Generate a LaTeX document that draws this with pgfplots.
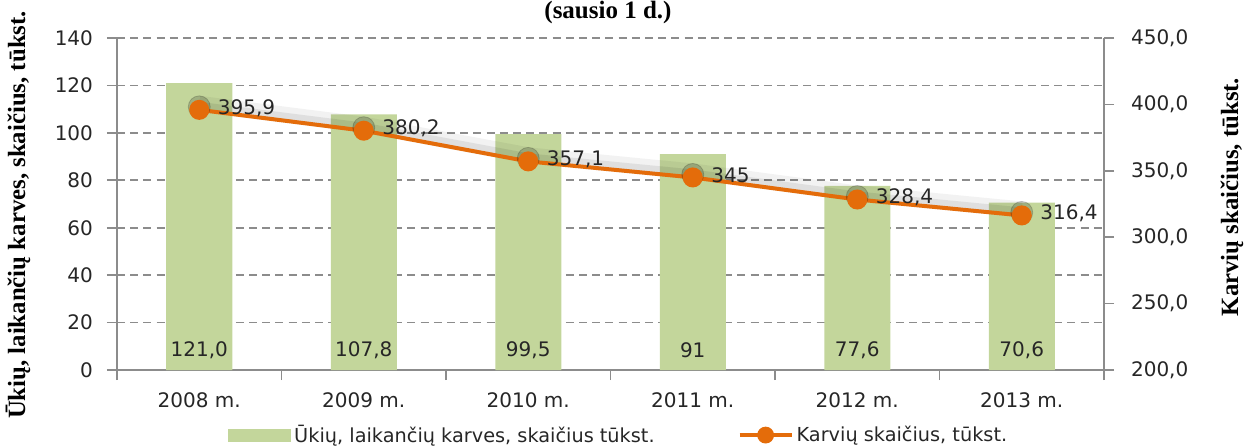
\documentclass[border=0pt]{standalone}
\usepackage{fontspec}
\setmainfont{DejaVu Sans}
\newfontfamily\serifb{Liberation Serif}[BoldFont={Liberation Serif Bold}]
\usepackage{pgfplots}
\pgfplotsset{compat=1.18}

\definecolor{barg}{HTML}{C3D69B}
\definecolor{lineo}{HTML}{E46C0A}
\definecolor{axg}{HTML}{8C8C8C}

\pgfplotsset{
  base/.style={
    scale only axis, width=493.5pt, height=166pt,
    at={(0,0)}, anchor=south west,
    xmin=-0.5, xmax=5.5, clip=false,
    tick align=outside,
    /pgf/number format/assume math mode=true,
    tick label style={font=\fontsize{10}{12}\selectfont, text=black!85},
    axis line style={axg, line width=0.8pt},
    every tick/.style={axg, line width=0.8pt},
    major tick length=5pt, minor tick length=5pt,
  },
}

\begin{document}
\begin{tikzpicture}
% ---- left axis: bars (farms keeping cows) ----
\begin{axis}[base,
  ymin=0, ymax=140, ytick={0,20,...,140},
  axis x line*=bottom, axis y line*=left,
  xtick={0,...,5},
  xticklabels={2008 m.,2009 m.,2010 m.,2011 m.,2012 m.,2013 m.},
  major x tick style={draw=none},
  minor xtick={-0.5,0.5,...,5.5},
  ymajorgrids,
  grid style={axg, line width=0.8pt, dash pattern=on 4pt off 2.6pt},
  xticklabel style={yshift=-3pt},
  yticklabel style={xshift=-3.5pt},
]
  \addplot[ybar, bar width=33pt, fill=barg, draw=none] coordinates {
    (0,121.0) (1,107.8) (2,99.5) (3,91.0) (4,77.6) (5,70.6)};
  % value labels inside the bars
  \addplot[draw=none, mark=none, nodes near coords, point meta=explicit symbolic,
    every node near coord/.style={anchor=center, font=\fontsize{10}{12}\selectfont, text=black!85}]
    coordinates {(0,8.5)[121,0] (1,8.5)[107,8] (2,8.5)[99,5] (3,8.5)[91] (4,8.5)[77,6] (5,8.5)[70,6]};
\end{axis}

% ---- right axis: cows ----
\begin{axis}[base,
  ymin=200, ymax=450, ytick={200,250,...,450},
  yticklabels={{200,0},{250,0},{300,0},{350,0},{400,0},{450,0}},
  yticklabel style={xshift=5pt},
  axis x line=none, axis y line*=right,
  legend style={at={(0.1125,-0.196)}, anchor=west, draw=none, fill=none,
    inner sep=0pt, font=\fontsize{9.65}{12}\selectfont,
    nodes={inner xsep=1.5pt, text=black!85}},
  legend columns=2,
  legend cell align=left,
  /tikz/every even column/.append style={column sep=40pt},
]
  \addlegendimage{legend image code/.code={\fill[barg] (0pt,-3pt) rectangle (31pt,3pt);}}
  \addlegendentry{Ūkių, laikančių karves, skaičius tūkst.}
  % soft shadow above the line
  \addplot[black, opacity=0.05, line width=8pt, yshift=3pt, forget plot]
    coordinates {(0,395.9) (1,380.2) (2,357.1) (3,345.0) (4,328.4) (5,316.4)};
  \addplot[black, opacity=0.08, line width=4pt, yshift=2pt, forget plot]
    coordinates {(0,395.9) (1,380.2) (2,357.1) (3,345.0) (4,328.4) (5,316.4)};
  \addplot[only marks, black, opacity=0.18, mark=*, mark size=5.5pt, yshift=1.5pt,
    mark options={draw=none}, forget plot]
    coordinates {(0,395.9) (1,380.2) (2,357.1) (3,345.0) (4,328.4) (5,316.4)};
  \addplot[lineo, line width=2pt, mark=*, mark size=4pt,
    mark options={fill=lineo, draw=lineo},
    legend image code/.code={\draw[lineo, line width=2pt] (0pt,0pt) -- (26pt,0pt);
      \fill[lineo] (13pt,0pt) circle (3.2pt);},
    nodes near coords, point meta=explicit symbolic,
    every node near coord/.style={anchor=west, xshift=5pt, yshift=1pt,
      font=\fontsize{10}{12}\selectfont, text=black!85}]
    coordinates {(0,395.9)[395,9] (1,380.2)[380,2] (2,357.1)[357,1] (3,345.0)[345] (4,328.4)[328,4] (5,316.4)[316,4]};
  \addlegendentry{Karvių skaičius, tūkst.}
\end{axis}

% titles and axis names
\node[font=\serifb\bfseries\fontsize{12.5}{14}\selectfont, anchor=base] at (245.5pt,176pt) {(sausio 1 d.)};
\node[font=\serifb\bfseries\fontsize{12.4}{14}\selectfont, rotate=90] at (-49.5pt,77.5pt)
  {Ūkių, laikančių karves, skaičius, tūkst.};
\node[font=\serifb\bfseries\fontsize{12.4}{14}\selectfont, rotate=90] at (557.5pt,86.5pt)
  {Karvių skaičius, tūkst.};

\pgfresetboundingbox
\path[use as bounding box] (-58.5pt,-38pt) rectangle (565pt,185pt);
\end{tikzpicture}
\end{document}
